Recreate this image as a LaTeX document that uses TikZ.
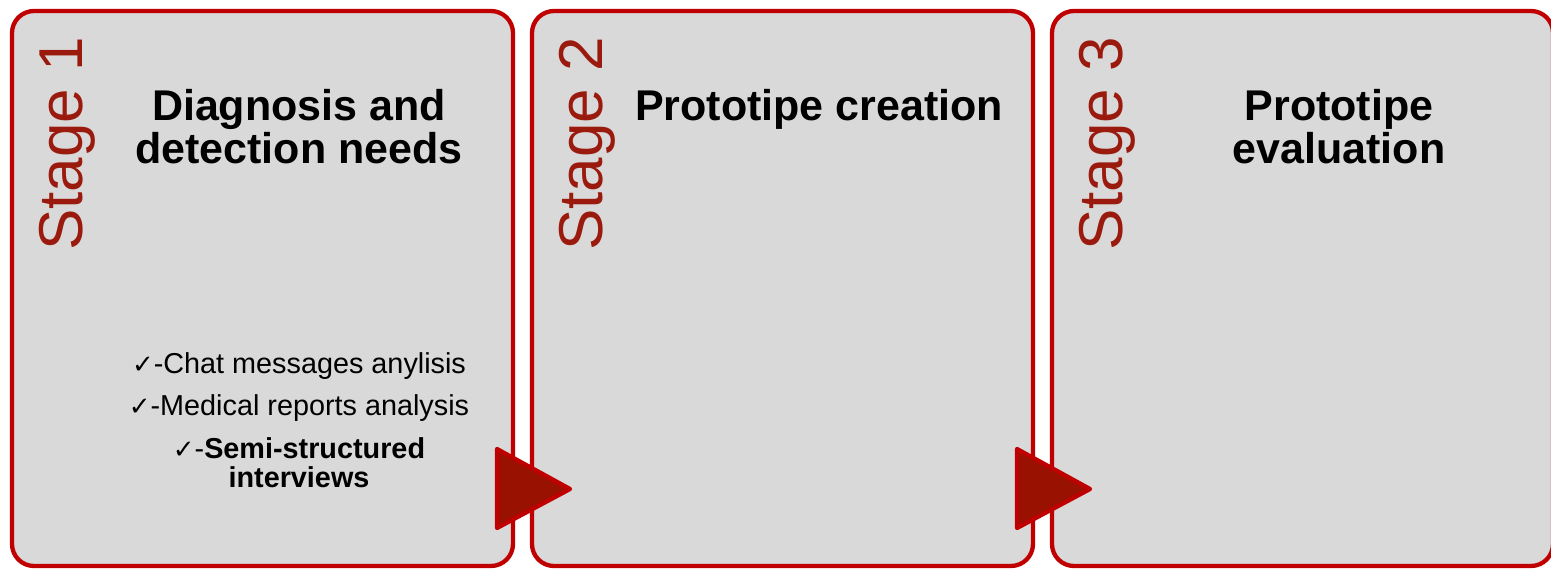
\documentclass[tikz,border=0pt]{standalone}
\usepackage{fontspec}
\setmainfont{Liberation Sans}
\newfontfamily\symfont{DejaVu Sans}
\definecolor{boxred}{HTML}{C00000}
\definecolor{boxgray}{HTML}{D9D9D9}
\definecolor{tridark}{HTML}{991100}
\definecolor{stagered}{HTML}{9B1A0E}
\tikzset{
  stagebox/.style={draw=boxred, line width=4.3pt, fill=boxgray, rounded corners=22pt,
    minimum width=501pt, minimum height=555pt, inner sep=0pt, outer sep=0pt},
  stagelbl/.style={text=stagered, inner sep=0pt, rotate=90, anchor=base west,
    font=\fontsize{62}{62}\selectfont},
  titlelbl/.style={inner sep=0pt, anchor=base, font=\fontsize{43}{43}\selectfont\bfseries},
  itemlbl/.style={inner sep=0pt, anchor=base, font=\fontsize{28.8}{29}\selectfont},
  itembold/.style={itemlbl, font=\fontsize{28.8}{29}\selectfont\bfseries},
  arrowtri/.style={draw=boxred, fill=tridark, line width=4.3pt, line join=round}
}
\newcommand{\chk}{{\symfont\bfseries\fontsize{26}{26}\selectfont\char"2713}}
\begin{document}
\begin{tikzpicture}[x=1pt,y=-1pt]
\useasboundingbox (0,0) rectangle (1551,568);
% boxes
\node[stagebox] (b1) at (262.5,288.5) {};
\node[stagebox] (b2) at (782.5,288.5) {};
\node[stagebox] (b3) at (1302.5,288.5) {};
% arrows
\draw[arrowtri] (497,449) -- (497,528) -- (570,489) -- cycle;
\draw[arrowtri] (1017,449) -- (1017,528) -- (1090,489) -- cycle;
% stage labels
\node[stagelbl] (s1) at (82,251) {Stage 1};
\node[stagelbl] (s2) at (602,251) {Stage 2};
\node[stagelbl] (s3) at (1122,251) {Stage 3};
% titles
\node[titlelbl] (t1a) at (299,120) {Diagnosis and};
\node[titlelbl] (t1b) at (299,163) {detection needs};
\node[titlelbl] (t2a) at (819,120) {Prototipe creation};
\node[titlelbl] (t3a) at (1339,120) {Prototipe};
\node[titlelbl] (t3b) at (1339,163) {evaluation};
% items
\node[itemlbl] (i1) at (299,373) {\chk-Chat messages anylisis};
\node[itemlbl] (i2) at (299,415) {\chk-Medical reports analysis};
\node[itembold] (i3) at (299,458) {\chk{\mdseries-}Semi-structured};
\node[itembold] (i4) at (299,487) {interviews};
\end{tikzpicture}
\end{document}
